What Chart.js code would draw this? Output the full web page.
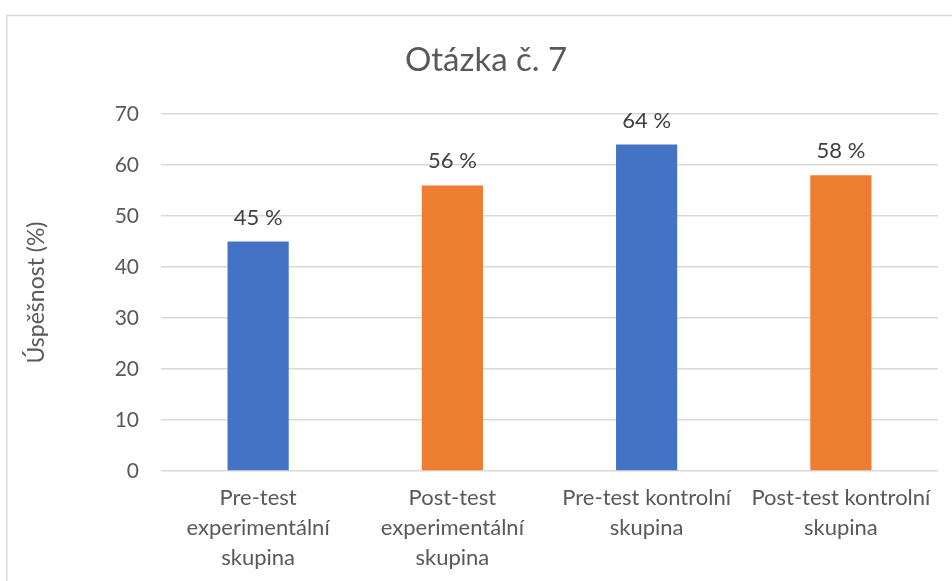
<!DOCTYPE html>
<html>
<head>
<meta charset="utf-8">
<script src="https://cdn.jsdelivr.net/npm/chart.js@4.4.1/dist/chart.umd.min.js"></script>
<style>
html,body{margin:0;padding:0;background:#fff;}
#wrap{width:952px;height:581px;position:relative;}
</style>
</head>
<body>
<div id="wrap"><canvas id="c" width="952" height="581"></canvas></div>
<script>
const categories = [
  ["Pre-test", "experimentální", "skupina"],
  ["Post-test", "experimentální", "skupina"],
  ["Pre-test kontrolní", "skupina"],
  ["Post-test kontrolní", "skupina"]
];
const values = [45, 56, 64, 58];
const barColors = ["#4472C4", "#ED7D31", "#4472C4", "#ED7D31"];
const yTicks = [0, 10, 20, 30, 40, 50, 60, 70];
const chartTitle = "Otázka č. 7";
const yTitle = "Úspěšnost (%)";

const FONT = "Lato, 'Open Sans', sans-serif";

const frame = {
  id: 'frame',
  beforeDraw(chart) {
    const ctx = chart.ctx;
    ctx.save();
    ctx.fillStyle = '#fff';
    ctx.fillRect(0, 0, chart.width, chart.height);
    ctx.strokeStyle = '#d9d9d9';
    ctx.lineWidth = 1.5;
    ctx.strokeRect(6.75, 15.5, 2000, 2000);
    ctx.restore();
  },
  afterDraw(chart) {
    // chart title, centred on the full (cropped) chart frame
    const ctx = chart.ctx;
    ctx.save();
    ctx.font = "33px " + FONT;
    ctx.fillStyle = '#595959';
    ctx.textAlign = 'center';
    ctx.textBaseline = 'middle';
    ctx.fillText(chartTitle, 486, 60);
    ctx.restore();
  }
};

const labels = {
  id: 'labels',
  afterDatasetsDraw(chart) {
    const ctx = chart.ctx;
    const meta = chart.getDatasetMeta(0);
    ctx.save();
    ctx.font = "22px " + FONT;
    ctx.fillStyle = '#404040';
    ctx.textAlign = 'center';
    ctx.textBaseline = 'middle';
    meta.data.forEach((bar, i) => {
      ctx.fillText(values[i] + " %", bar.x, bar.y - 24);
    });
    ctx.restore();
  }
};

new Chart(document.getElementById('c'), {
  type: 'bar',
  data: {
    labels: categories,
    datasets: [{
      data: values,
      backgroundColor: barColors,
      borderWidth: 0,
      categoryPercentage: 1,
      barPercentage: 0.315
    }]
  },
  options: {
    responsive: false,
    animation: false,
    devicePixelRatio: 1,
    layout: { padding: { left: 0, right: 14, top: 114, bottom: 0 } },
    plugins: {
      legend: { display: false },
      tooltip: { enabled: false },
      title: { display: false }
    },
    scales: {
      x: {
        grid: { display: false, drawTicks: false },
        border: { display: false },
        ticks: {
          color: '#595959',
          font: { family: FONT, size: 22, lineHeight: 1.36 },
          padding: 12,
          maxRotation: 0,
          autoSkip: false
        },
        afterFit(scale) { scale.height = 110; }
      },
      y: {
        min: 0,
        max: 70,
        afterBuildTicks(scale) { scale.ticks = yTicks.map(v => ({ value: v })); },
        grid: { color: '#d9d9d9', lineWidth: 1.5, drawTicks: false },
        border: { display: false },
        ticks: {
          color: '#595959',
          font: { family: FONT, size: 21 },
          padding: 22
        },
        title: {
          display: true,
          text: yTitle,
          color: '#595959',
          font: { family: FONT, size: 23, weight: 'normal' },
          padding: { top: 23, bottom: 0 }
        },
        afterFit(scale) { scale.width = 161; }
      }
    }
  },
  plugins: [frame, labels]
});
</script>
</body>
</html>
